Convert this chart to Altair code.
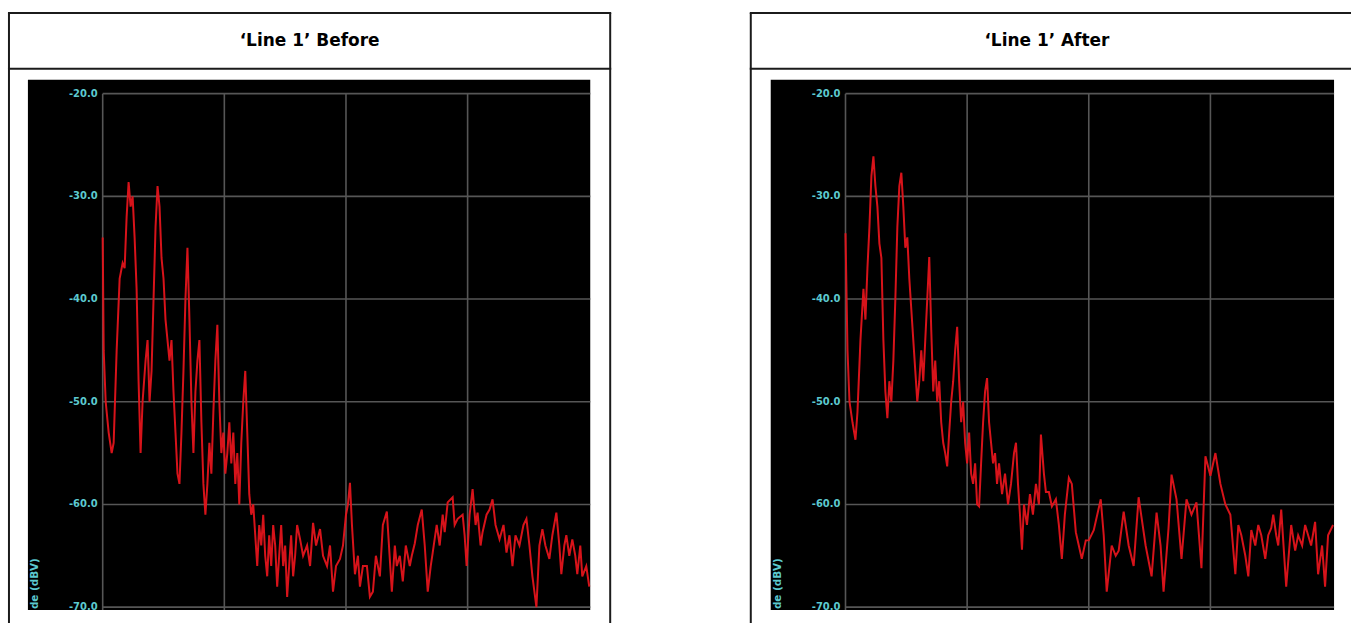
import altair as alt
import pandas as pd

# ---------------- data ----------------
# frequency bins (1 bin = 1/122 of a grid division), amplitude in dBV
LEFT_BINS = [0, 1, 3, 6, 9, 11, 14, 17, 20, 22, 24, 26, 28, 30, 32, 34, 36, 38, 40, 43,
             45, 47, 49, 51, 53, 55, 57, 59, 61, 63, 65, 67, 69, 71, 73, 75, 77, 79, 81, 83,
             85, 87, 89, 91, 93, 95, 97, 99, 101, 103, 105, 107, 109, 111, 113, 115, 117, 119, 121, 123,
             125, 127, 129, 131, 133, 135, 137, 139, 141, 143, 145, 147, 149, 151, 153, 155, 157, 159, 161, 163,
             165, 167, 169, 171, 173, 175, 177, 179, 181, 183, 185, 187, 189, 191, 193, 195, 198, 201, 205, 208,
             211, 214, 218, 221, 225, 228, 231, 234, 238, 241, 244, 246, 248, 250, 253, 256, 258, 261, 265, 268,
             271, 274, 278, 281, 285, 290, 293, 295, 298, 301, 304, 308, 310, 313, 316, 320, 323, 326, 329, 331,
             335, 338, 341, 343, 346, 351, 353, 356, 361, 363, 365, 368, 371, 374, 376, 379, 381, 385, 388, 391,
             394, 398, 402, 405, 408, 411, 414, 418, 422, 425, 428, 431, 435, 438, 441, 444, 448, 451, 455, 458,
             460, 463, 465, 468, 471, 474, 476, 479, 481, 485, 488]
LEFT_DBV = [-34, -45, -50, -53, -55, -54, -45, -38, -36.5, -37, -32, -28.6, -31, -30, -34, -39, -48, -55, -50, -46,
            -44, -50, -47, -40, -33, -29, -31, -36, -38, -42, -44, -46, -44, -49, -53, -57, -58, -53, -47, -40,
            -35, -42, -50, -55, -49, -46, -44, -52, -58, -61, -58, -54, -57, -51, -46, -42.5, -50, -55, -53, -57,
            -55, -52, -56, -53, -58, -55, -60, -54, -50, -47, -53, -59, -61, -60, -63, -66, -62, -64, -61, -65,
            -67, -63, -66, -62, -64, -68, -65, -62, -66, -64, -69, -66, -63, -67, -65, -62, -63.4, -65, -64, -66,
            -61.8, -64, -62.4, -65, -66, -64, -68.5, -66, -65.3, -64, -61, -60, -57.9, -62, -66.8, -65, -68, -66, -66, -69,
            -68.5, -65, -67, -62, -60.7, -68.5, -64, -66, -65, -67.5, -64, -66, -65, -63.8, -62, -60.5, -64, -68.5, -66, -64.7,
            -62, -64, -61, -62.7, -59.8, -59.3, -62, -61.4, -61, -63, -66, -61, -58.5, -62, -60.8, -64, -62.7, -61, -60.5, -59.5,
            -62, -63.4, -62, -64.7, -63, -66, -63, -64, -62, -61.4, -64, -67, -70, -64, -62.4, -64, -65.3, -63, -60.8, -64,
            -66.8, -64, -63, -65, -63.4, -65, -66.8, -64, -67, -66, -68]

RIGHT_BINS = [0, 2, 4, 7, 10, 12, 15, 18, 20, 22, 24, 26, 28, 30, 32, 34, 36, 38, 40, 42,
              44, 46, 48, 50, 52, 54, 56, 58, 60, 62, 64, 66, 68, 70, 72, 74, 76, 78, 80, 82,
              84, 86, 88, 90, 92, 94, 96, 98, 100, 102, 104, 106, 108, 110, 112, 114, 116, 118, 120, 122,
              124, 126, 128, 130, 132, 134, 136, 138, 140, 142, 144, 146, 148, 150, 152, 154, 157, 160, 163, 166,
              169, 171, 173, 175, 177, 179, 182, 185, 188, 191, 194, 196, 199, 201, 204, 207, 211, 214, 217, 220,
              224, 227, 231, 234, 237, 241, 244, 249, 256, 259, 262, 267, 271, 274, 279, 284, 289, 294, 298, 301,
              307, 312, 316, 319, 324, 327, 332, 337, 342, 347, 352, 357, 361, 366, 371, 376, 381, 386, 391, 394,
              397, 401, 404, 407, 411, 414, 417, 421, 424, 427, 429, 432, 434, 437, 442, 447, 451, 454, 458, 461,
              464, 467, 471, 474, 478, 481, 484, 489]
RIGHT_DBV = [-33.6, -45, -50, -52, -53.7, -51, -44, -39, -42, -37, -33, -28, -26.1, -29, -31, -34.6, -36, -44, -49, -51.6,
             -48, -50, -46, -40, -33, -29, -27.7, -31, -35, -34, -38, -41, -44, -47, -50, -48, -45, -48, -44, -40,
             -35.9, -43, -49, -46, -50, -48, -52, -54, -55, -56.3, -53, -50, -48, -45, -42.7, -48, -52, -50, -54, -56,
             -53, -57, -58, -56, -60, -60.2, -56, -52, -49, -47.7, -52, -54, -56, -55, -58, -56, -59, -57, -60, -58,
             -55, -54, -58, -61, -64.4, -60, -62, -59, -61, -58, -60, -53.2, -57, -58.8, -58.8, -60.2, -59.5, -62, -65.3, -61,
             -57.4, -58, -62.7, -64, -65.3, -63.5, -63.5, -62.5, -59.5, -63, -68.5, -64, -65, -64.5, -60.7, -64, -66, -59.3, -62, -64,
             -67, -60.8, -64, -68.5, -62.3, -57.1, -59.5, -65.3, -59.5, -61, -59.8, -66.2, -55.3, -57.2, -55, -58, -60, -61, -66.8, -62,
             -63, -65, -67, -62.5, -64, -62, -63, -65.3, -63, -62.3, -61, -63, -64, -60.5, -68, -62, -64.5, -63, -64, -62,
             -63, -64, -61.7, -66.8, -64, -68, -63, -62]

Y_TICKS = [-20, -30, -40, -50, -60, -70]
X_GRID = [0, 122, 244, 366]
TITLES = ["\u2018Line 1\u2019 Before", "\u2018Line 1\u2019 After"]
Y_TITLE = "de (dBV)"   # visible end of the cropped "Amplitude (dBV)" axis title

RED = "#e3141b"
GRID = "#565656"
CYAN = "#5cc9cf"
BORDER = "#1b1b1b"

H = 613


def one_row():
    return alt.Data(values=[{"k": 0}])


def panel(title, bins, vals, width, x0, black_l, black_r, right_border):
    xs = alt.Scale(domain=[0, 488], range=[x0, x0 + 488])
    ys = alt.Scale(domain=[-20, -70], range=[82, 597])
    top, bottom = 68, 600

    curve = pd.DataFrame({"bin": bins, "dbv": vals})
    ticks = pd.DataFrame({"v": Y_TICKS, "label": [f"{t:.1f}" for t in Y_TICKS]})
    vgrid = pd.DataFrame({"b": X_GRID})

    black = alt.Chart(one_row()).mark_rect(color="black").encode(
        x=alt.value(black_l), x2=alt.value(black_r), y=alt.value(top), y2=alt.value(bottom))
    hgrid = alt.Chart(ticks).mark_rule(color=GRID, strokeWidth=1.6).encode(
        x=alt.value(x0), x2=alt.value(black_r),
        y=alt.Y("v:Q", scale=ys, axis=None))
    vg = alt.Chart(vgrid).mark_rule(color=GRID, strokeWidth=1.6).encode(
        x=alt.X("b:Q", scale=xs, axis=None), y=alt.value(82), y2=alt.value(bottom))
    labels = alt.Chart(ticks).mark_text(
        align="right", baseline="middle", dx=-5, color=CYAN, fontSize=10,
        font="DejaVu Sans", fontWeight="bold").encode(
        x=alt.value(x0), y=alt.Y("v:Q", scale=ys, axis=None), text="label:N")
    ytitle = alt.Chart(one_row()).mark_text(
        angle=270, align="left", baseline="middle", color=CYAN, fontSize=10.5,
        font="DejaVu Sans", fontWeight="bold").encode(
        x=alt.value(black_l + 7), y=alt.value(bottom - 1), text=alt.value(Y_TITLE))
    line = alt.Chart(curve).mark_line(color=RED, strokeWidth=2, opacity=0.95).encode(
        x=alt.X("bin:Q", scale=xs, axis=None), y=alt.Y("dbv:Q", scale=ys, axis=None))

    right_x = width - 2 if right_border else width
    borders = [
        alt.Chart(one_row()).mark_rule(color=BORDER, strokeWidth=2).encode(
            x=alt.value(1), y=alt.value(1), y2=alt.value(H)),
        alt.Chart(one_row()).mark_rule(color=BORDER, strokeWidth=2).encode(
            x=alt.value(0), x2=alt.value(right_x + 1), y=alt.value(1)),
        alt.Chart(one_row()).mark_rule(color=BORDER, strokeWidth=2).encode(
            x=alt.value(0), x2=alt.value(right_x + 1), y=alt.value(57)),
    ]
    if right_border:
        borders.append(alt.Chart(one_row()).mark_rule(color=BORDER, strokeWidth=2).encode(
            x=alt.value(right_x), y=alt.value(1), y2=alt.value(H)))
    head = alt.Chart(one_row()).mark_text(
        align="center", baseline="middle", fontSize=17, font="DejaVu Sans",
        fontWeight="bold", color="black").encode(
        x=alt.value((right_x + 1) / 2 if right_border else 298), y=alt.value(29),
        text=alt.value(title))

    return alt.layer(black, hgrid, vg, line, labels, ytitle, *borders, head).properties(
        width=width, height=H)


left = panel(TITLES[0], LEFT_BINS, LEFT_DBV, 606, 95, 20, 584, True)
right = panel(TITLES[1], RIGHT_BINS, RIGHT_DBV, 602, 96, 21, 586, False)

chart = alt.hconcat(left, right, spacing=137).properties(
    padding={"left": 7, "top": 11, "right": 0, "bottom": 0},
    background="white",
).configure_view(strokeWidth=0)

chart.save("out.html", embed_options={"renderer": "svg", "actions": False})
